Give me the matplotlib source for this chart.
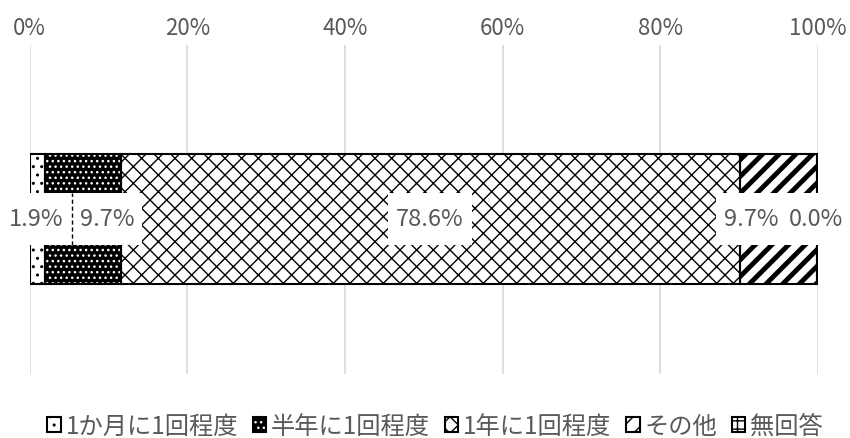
import matplotlib
matplotlib.use('Agg')
import matplotlib.pyplot as plt
from matplotlib.path import Path
from matplotlib.legend_handler import HandlerTuple

plt.rcParams['font.family'] = ['Noto Sans CJK JP', 'DejaVu Sans']

categories = ['1か月に1回程度', '半年に1回程度', '1年に1回程度', 'その他', '無回答']
values = [1.9, 9.7, 78.6, 9.7, 0.0]
value_labels = ['1.9%', '9.7%', '78.6%', '9.7%', '0.0%']
ticks = [0, 20, 40, 60, 80, 100]
tick_labels = ['0%', '20%', '40%', '60%', '80%', '100%']

# label positions were nudged by hand in the original chart
label_pos = [0.8, 9.8, 50.8, 91.6, 99.8]

faces = ['white', 'black', 'white', 'white', 'white']
hatch_colors = ['black', 'white', 'black', 'black', 'black']
hatches = ['..', '...', 'xx', '//', '++']
text_gray = '#595959'


def label_box(x0, y0, width, height, mutation_size):
    # wide white box like the excel data labels: small side pad, tall box
    px = 0.35 * mutation_size
    h = 52
    cy = y0 + height / 2
    x0, x1 = x0 - px, x0 + width + px
    y0, y1 = cy - h / 2, cy + h / 2
    return Path([(x0, y0), (x1, y0), (x1, y1), (x0, y1), (x0, y0)], closed=True)


fig = plt.figure(figsize=(8.5, 4.39), dpi=100)
ax = fig.add_axes([0.035, 0.146, 0.927, 0.75])

left = 0
handles = []
for i, v in enumerate(values):
    pat = ax.barh(0, v, left=left, height=1.0, color=faces[i],
                  edgecolor=hatch_colors[i], hatch=hatches[i], linewidth=0, zorder=2)
    if i == 3 and hasattr(pat[0], 'set_hatch_linewidth'):
        pat[0].set_hatch_linewidth(3.5)
    out = ax.barh(0, v, left=left, height=1.0, fill=False,
                  edgecolor='black', linewidth=1.5, zorder=3)
    handles.append((pat[0], out[0]))
    left += v

for x, s in zip(label_pos, value_labels):
    ax.text(x, 0, s, ha='center', va='center', fontsize=17, color=text_gray, zorder=4,
            bbox=dict(boxstyle=label_box, facecolor='white', edgecolor='none'))

# leader line for the small segment label
ax.plot([5.3, 5.3], [-0.2, 0.2], color='black', linestyle=(0, (3, 2)), linewidth=1, zorder=5)

ax.set_xlim(0, 100)
ax.set_ylim(-1.2, 1.35)
ax.set_yticks([])
ax.set_xticks(ticks)
ax.set_xticklabels(tick_labels)
ax.xaxis.tick_top()
ax.tick_params(axis='x', length=0, labelsize=16, labelcolor=text_gray, pad=4)
ax.grid(axis='x', color='#d9d9d9', linewidth=1.2, zorder=0)
for s in ax.spines.values():
    s.set_visible(False)

leg = fig.legend(handles, categories, loc='center', bbox_to_anchor=(0.512, 0.027), ncol=5,
                 frameon=False, fontsize=17.5, labelcolor=text_gray,
                 handler_map={tuple: HandlerTuple(ndivide=1, pad=0)},
                 handlelength=0.54, handleheight=0.54, handletextpad=0.2, columnspacing=0.62)

fig.savefig('out.png', dpi=100)
